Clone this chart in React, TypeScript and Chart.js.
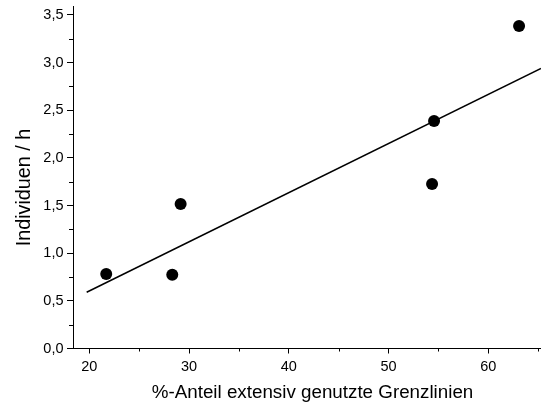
import React, { useEffect, useRef } from "react";
import { Chart, registerables } from "chart.js";

Chart.register(...registerables);

const pointX = [21.7, 28.32, 29.16, 54.36, 54.56, 63.08];
const pointY = [0.782, 0.775, 1.516, 1.726, 2.387, 3.384];

const fitX = [19.74, 65.28];
const fitY = [0.59, 2.94];

const xMajorTicks = [20, 30, 40, 50, 60];
const xMinorTicks = [25, 35, 45, 55, 65];
const yMajorTicks = [0, 0.5, 1.0, 1.5, 2.0, 2.5, 3.0, 3.5];
const yMinorTicks = [0.25, 0.75, 1.25, 1.75, 2.25, 2.75, 3.25];

const xTitle = "%-Anteil extensiv genutzte Grenzlinien";
const yTitle = "Individuen / h";

const FONT = "'Liberation Sans', Arial, sans-serif";

const minorTickPlugin = {
  id: "minorTicks",
  afterDraw(chart: any) {
    const ctx = chart.ctx;
    const xs = chart.scales.x;
    const ys = chart.scales.y;
    ctx.save();
    ctx.strokeStyle = "#000";
    ctx.lineWidth = 1;
    ctx.beginPath();
    xMinorTicks.forEach((v) => {
      const px = Math.round(xs.getPixelForValue(v)) + 0.5;
      if (px < xs.left || px > xs.right) return;
      ctx.moveTo(px, xs.top);
      ctx.lineTo(px, xs.top + 3);
    });
    yMinorTicks.forEach((v) => {
      const py = Math.round(ys.getPixelForValue(v)) + 0.5;
      ctx.moveTo(ys.right, py);
      ctx.lineTo(ys.right - 4, py);
    });
    ctx.stroke();

    // axis titles
    ctx.fillStyle = "#000";
    ctx.textAlign = "center";
    ctx.textBaseline = "alphabetic";
    ctx.font = `18.8px ${FONT}`;
    ctx.fillText(xTitle, 312.5, 398.3);
    ctx.save();
    ctx.translate(29.5, 187.5);
    ctx.rotate(-Math.PI / 2);
    ctx.font = `19.8px ${FONT}`;
    ctx.fillText(yTitle, 0, 0);
    ctx.restore();
    ctx.restore();
  },
};

export default function App() {
  const ref = useRef<HTMLCanvasElement | null>(null);

  useEffect(() => {
    document.body.style.margin = "0";
    const canvas = ref.current;
    if (!canvas) return;
    const chart = new Chart(canvas, {
      type: "scatter",
      data: {
        datasets: [
          {
            type: "scatter",
            data: pointX.map((x, i) => ({ x, y: pointY[i] })),
            backgroundColor: "#000",
            borderColor: "#000",
            pointRadius: 6,
            pointHoverRadius: 6,
            borderWidth: 0,
          },
          {
            type: "line",
            data: fitX.map((x, i) => ({ x, y: fitY[i] })),
            borderColor: "#000",
            borderWidth: 1.5,
            pointRadius: 0,
            fill: false,
          } as any,
        ],
      },
      options: {
        animation: false,
        responsive: false,
        events: [],
        layout: { autoPadding: false, padding: { top: 6, right: 0, left: 0, bottom: 0 } },
        plugins: {
          legend: { display: false },
          tooltip: { enabled: false },
        },
        scales: {
          x: {
            type: "linear",
            min: 18.37,
            max: 65.28,
            afterBuildTicks: (scale: any) => {
              scale.ticks = xMajorTicks.map((v) => ({ value: v }));
            },
            afterFit: (scale: any) => {
              scale.height = 54.5;
              scale.paddingRight = 0;
              scale.paddingLeft = 0;
            },
            grid: {
              display: true,
              drawOnChartArea: false,
              drawTicks: true,
              tickLength: 5,
              tickColor: "#000",
              tickWidth: 1,
            },
            border: { display: true, color: "#000", width: 1 },
            ticks: {
              color: "#000",
              font: { family: FONT, size: 14.5 },
              padding: 5,
              maxRotation: 0,
              autoSkip: false,
              callback: (v: any) => String(v),
            },
            title: { display: false },
          },
          y: {
            type: "linear",
            min: 0,
            max: 3.594,
            afterBuildTicks: (scale: any) => {
              scale.ticks = yMajorTicks.map((v) => ({ value: v }));
            },
            afterFit: (scale: any) => {
              scale.width = 73;
              scale.paddingTop = 0;
              scale.paddingBottom = 0;
            },
            grid: {
              display: true,
              drawOnChartArea: false,
              drawTicks: true,
              tickLength: 6,
              tickColor: "#000",
              tickWidth: 1,
            },
            border: { display: true, color: "#000", width: 1 },
            ticks: {
              color: "#000",
              font: { family: FONT, size: 14.5 },
              padding: 3.5,
              autoSkip: false,
              callback: (v: any) => Number(v).toFixed(1).replace(".", ","),
            },
            title: { display: false },
          },
        },
      },
      plugins: [minorTickPlugin],
    });
    return () => chart.destroy();
  }, []);

  return (
    <div style={{ position: "absolute", left: 0, top: 0, width: 541, height: 403 }}>
      <canvas ref={ref} width={541} height={403} style={{ width: 541, height: 403, display: "block" }} />
    </div>
  );
}
